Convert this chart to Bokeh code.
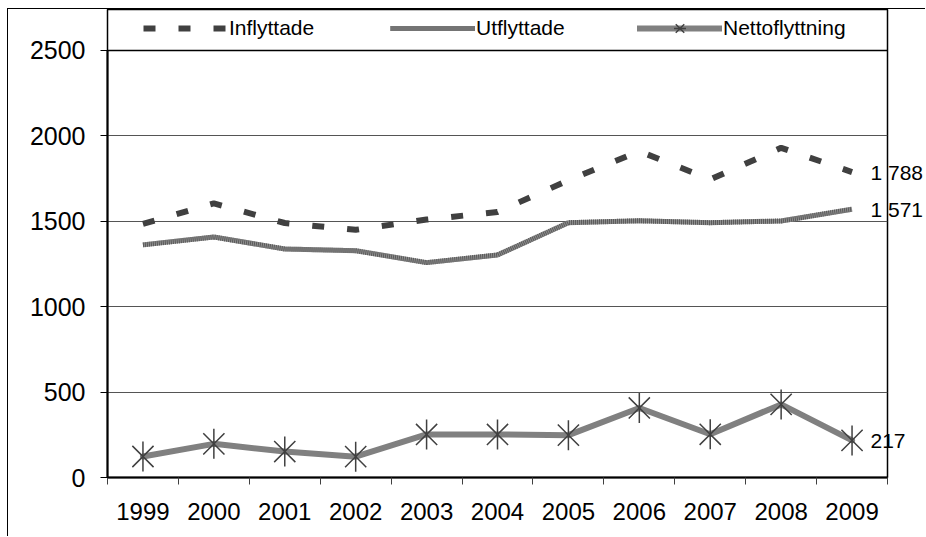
from bokeh.plotting import figure
from bokeh.models import (FactorRange, Range1d, LinearAxis, FixedTicker, Legend,
                          LegendItem, Span, ColumnDataSource)
from bokeh.embed import file_html
from bokeh.resources import INLINE

years = ["1999", "2000", "2001", "2002", "2003", "2004", "2005", "2006", "2007", "2008", "2009"]
inflyttade = [1485, 1605, 1490, 1450, 1510, 1555, 1740, 1910, 1745, 1930, 1788]
utflyttade = [1362, 1408, 1338, 1328, 1258, 1303, 1492, 1503, 1492, 1502, 1571]
netto = [123, 197, 152, 122, 252, 252, 248, 407, 253, 428, 217]
y_ticks = [0, 500, 1000, 1500, 2000, 2500]
series_names = ["Inflyttade", "Utflyttade", "Nettoflyttning"]

FONT = "Liberation Sans"

p = figure(width=918, height=528, x_range=FactorRange(factors=years),
           y_range=Range1d(0, 2740), x_axis_type=None,
           output_backend="svg", toolbar_location=None,
           min_border_left=99, min_border_right=37, min_border_top=0, min_border_bottom=60)
p.styles = {"margin-left": "7px", "margin-top": "8px",
            "border-left": "1px solid #000000", "border-top": "1px solid #000000"}
p.outline_line_color = "#000000"
p.outline_line_width = 1.5
p.background_fill_color = "white"
p.border_fill_color = "white"

# y axis
ya = p.yaxis[0]
ya.ticker = FixedTicker(ticks=y_ticks)
ya.bounds = (0, 2500)
ya.axis_line_width = 2
ya.axis_line_color = "#000000"
ya.major_tick_out = 7
ya.major_tick_in = 0
ya.major_tick_line_color = "#000000"
ya.minor_tick_line_color = None
ya.major_label_standoff = 15
ya.major_label_text_font = FONT
ya.major_label_text_font_size = "25px"
ya.major_label_text_color = "#000000"

p.ygrid.ticker = FixedTicker(ticks=y_ticks[1:-1])
p.ygrid.grid_line_color = "#555555"
p.ygrid.grid_line_width = 1
p.add_layout(Span(location=y_ticks[-1], dimension="width", line_color="#000000", line_width=1.5))

# x axis: labels at category centres, tick marks at category boundaries
xa = LinearAxis(ticker=FixedTicker(ticks=[i + 0.5 for i in range(len(years))],
                                   minor_ticks=list(range(len(years) + 1))))
xa.major_label_overrides = {i + 0.5: y for i, y in enumerate(years)}
xa.axis_line_width = 2
xa.axis_line_color = "#000000"
xa.major_tick_line_color = None
xa.major_tick_out = 0
xa.major_tick_in = 0
xa.minor_tick_line_color = "#404040"
xa.minor_tick_out = 7
xa.minor_tick_in = 0
xa.major_label_standoff = 18
xa.major_label_text_font = FONT
xa.major_label_text_font_size = "24px"
xa.major_label_text_color = "#000000"
p.add_layout(xa, "below")

src = ColumnDataSource(data=dict(x=years, inf=inflyttade, utf=utflyttade, net=netto))

r_inf = p.line("x", "inf", source=src, line_color="#404040", line_width=6,
               line_dash="12 23", line_cap="butt")
r_utf_a = p.line("x", "utf", source=src, line_color="#8e8e8e", line_width=5)
r_utf_b = p.line("x", "utf", source=src, line_color="#5a5a5a", line_width=5, line_dash="1 1")
r_net = p.line("x", "net", source=src, line_color="#808080", line_width=6,
               line_cap="round", line_join="round")
r_net_x = p.scatter("x", "net", source=src, marker="x", size=30,
                    line_color="#404040", line_width=1.5)
r_net_v = p.scatter("x", "net", source=src, marker="dash", size=30, angle=1.5707963,
                    line_color="#404040", line_width=1.5)

# end-of-line value labels (drawn as a right-hand axis so they are not clipped by the frame)
last = [inflyttade[-1], utflyttade[-1], netto[-1]]
ra = LinearAxis(ticker=FixedTicker(ticks=last, minor_ticks=[]))
ra.major_label_overrides = {v: f"{v:,}".replace(",", " ") for v in last}
ra.axis_line_color = None
ra.major_tick_line_color = None
ra.major_tick_out = 0
ra.major_tick_in = 0
ra.minor_tick_line_color = None
ra.major_label_standoff = -17
ra.major_label_text_font = FONT
ra.major_label_text_font_size = "21px"
ra.major_label_text_color = "#000000"
p.add_layout(ra, "right")

legend = Legend(items=[
    LegendItem(label=series_names[0], renderers=[r_inf]),
    LegendItem(label=series_names[1], renderers=[r_utf_a, r_utf_b]),
    LegendItem(label=series_names[2], renderers=[r_net, r_net_x, r_net_v]),
], orientation="horizontal", location=(36, 434))
legend.glyph_width = 85
legend.glyph_height = 30
legend.label_height = 30
legend.label_width = 161
legend.label_standoff = 1
legend.spacing = 0
legend.padding = 0
legend.margin = 0
legend.border_line_color = None
legend.background_fill_alpha = 0
legend.label_text_font = FONT
legend.label_text_font_size = "21px"
legend.label_text_color = "#000000"
p.add_layout(legend)

open("out.html", "w").write(file_html(p, INLINE))
